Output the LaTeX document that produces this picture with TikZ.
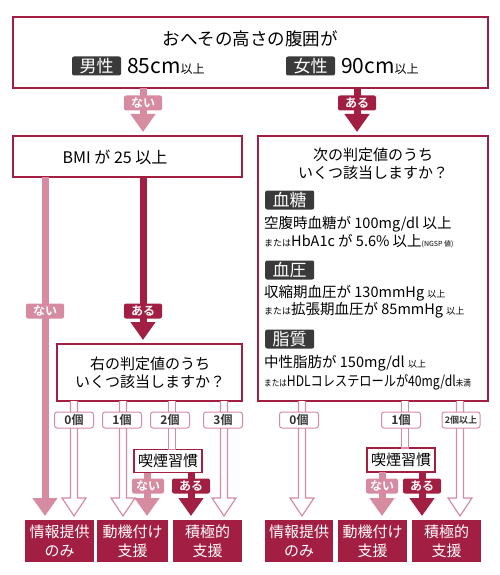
\documentclass[tikz,border=0pt]{standalone}
\usepackage{fontspec}
\usepackage{graphicx}
\setmainfont{Noto Sans CJK JP}[BoldFont={Noto Sans CJK JP Bold}]
\usetikzlibrary{arrows.meta, calc, positioning}
\definecolor{crimson}{HTML}{A31E43}
\definecolor{pale}{HTML}{D68BA0}
\definecolor{taggray}{HTML}{3A3A3A}
\definecolor{darktext}{HTML}{333333}
\newcommand{\fsz}[1]{\fontsize{#1}{#1}\selectfont}
\newcommand{\fszl}[2]{\fontsize{#1}{#2}\selectfont}
\tikzset{
	crbox/.style={draw=crimson, line width=1.2pt, fill=white, inner sep=0pt, outer sep=0pt}
}
\tikzset{
	outbox/.style={fill=crimson, text=white, inner sep=0pt, outer sep=0pt, minimum height=42pt,
		align=center, font=\fszl{15}{19}}
}
\tikzset{
	graytag/.style={fill=taggray, text=white, rounded corners=2pt, inner sep=0pt,
		minimum width=49pt, minimum height=19pt, font=\fsz{17}}
}
\tikzset{
	yesbadge/.style={fill=crimson, text=white, rounded corners=2pt, inner sep=0pt,
		minimum width=38pt, minimum height=15pt, font=\bfseries\fsz{12}},
	nobadge/.style={yesbadge, fill=pale},
	countbadge/.style={draw=pale, line width=1pt, fill=white, text=darktext, rounded corners=2.5pt,
		inner sep=0pt, minimum width=39pt, minimum height=16pt, font=\bfseries\fsz{12}},
	yesarrow/.style={crimson, line width=7pt, shorten >=4pt, -{Triangle[width=24pt,length=18pt]}},
	noarrow/.style={yesarrow, pale},
	hollowline/.style={draw=pale, line width=1.2pt, fill=white, line join=miter},
	plaintext/.style={inner sep=0pt, text=black}
}
% outlined arrow from #1 down to #2
\newcommand{\hollowarrow}[2]{%
	\draw[hollowline] let \p1=(#1), \p2=(#2) in
		(\x1-3.5pt,\y1) -- (\x1-3.5pt,\y2+22pt) -- (\x1-12pt,\y2+22pt) -- (\x1,\y2+4pt)
		-- (\x1+12pt,\y2+22pt) -- (\x1+3.5pt,\y2+22pt) -- (\x1+3.5pt,\y1);
}
% outlined stem only
\newcommand{\hollowstem}[2]{%
	\draw[hollowline] let \p1=(#1), \p2=(#2) in
		(\x1-3.5pt,\y1) -- (\x1-3.5pt,\y2) -- (\x1+3.5pt,\y2) -- (\x1+3.5pt,\y1);
}
\begin{document}
\begin{tikzpicture}[x=1pt, y=-1pt]
	\useasboundingbox (0,0) rectangle (500,575);

	% boxes
	\node[crbox, minimum width=475pt, minimum height=71pt] (waist) at (250.5,52.5) {};
	\node[crbox, minimum width=229pt, minimum height=41pt] (bmi) at (127.5,156.5) {};
	\node[crbox, minimum width=230pt, minimum height=265pt] (crit) at (373,268.5) {};
	\node[crbox, minimum width=185pt, minimum height=57pt] (count) at (149.5,372.5) {};

	\node[outbox, minimum width=69pt] (outL1) at (59.5,541) {情報提供\\のみ};
	\node[outbox, minimum width=71pt] (outL2) at (132.5,541) {動機付け\\支援};
	\node[outbox, minimum width=69pt] (outL3) at (207.5,541) {積極的\\支援};
	\node[outbox, minimum width=68pt] (outR1) at (299,541) {情報提供\\のみ};
	\node[outbox, minimum width=69pt] (outR2) at (372.5,541) {動機付け\\支援};
	\node[outbox, minimum width=69pt] (outR3) at (446.5,541) {積極的\\支援};

	% columns
	\coordinate (colNoTop) at (143,0);
	\coordinate (colYesTop) at (357,0);
	\coordinate (colNoBmi) at (45,0);
	\coordinate (colYesBmi) at (143,0);
	\coordinate (colL0) at (74,0);
	\coordinate (colL1) at (123,0);
	\coordinate (colL2) at (172,0);
	\coordinate (colL3) at (224,0);
	\coordinate (colLno) at (147,0);
	\coordinate (colLyes) at (191,0);
	\coordinate (colR0) at (302,0);
	\coordinate (colR1) at (405,0);
	\coordinate (colR2) at (460,0);
	\coordinate (colRno) at (382,0);
	\coordinate (colRyes) at (422,0);

	% smoking boxes
	\node[crbox, minimum width=68pt, minimum height=23pt, font=\fsz{15}] (smokeL) at (168,461) {喫煙習慣};
	\node[crbox, minimum width=68pt, minimum height=24pt, font=\fsz{15}] (smokeR) at (401,460) {喫煙習慣};

	% arrows
	\draw[noarrow] (waist.south -| colNoTop) -- (bmi.north -| colNoTop);
	\draw[yesarrow] (waist.south -| colYesTop) -- (crit.north -| colYesTop);
	\draw[noarrow] (bmi.south -| colNoBmi) -- (outL1.north -| colNoBmi);
	\draw[yesarrow] (bmi.south -| colYesBmi) -- (count.north -| colYesBmi);
	\hollowarrow{count.south -| colL0}{outL1.north -| colL0}
	\hollowarrow{count.south -| colL1}{outL2.north -| colL1}
	\hollowstem{count.south -| colL2}{smokeL.north -| colL2}
	\hollowarrow{count.south -| colL3}{outL3.north -| colL3}
	\draw[noarrow] (smokeL.south -| colLno) -- (outL2.north -| colLno);
	\draw[yesarrow] (smokeL.south -| colLyes) -- (outL3.north -| colLyes);
	\hollowarrow{crit.south -| colR0}{outR1.north -| colR0}
	\hollowstem{crit.south -| colR1}{smokeR.north -| colR1}
	\hollowarrow{crit.south -| colR2}{outR3.north -| colR2}
	\draw[noarrow] (smokeR.south -| colRno) -- (outR2.north -| colRno);
	\draw[yesarrow] (smokeR.south -| colRyes) -- (outR3.north -| colRyes);

	% badges
	\node[nobadge] (noTop) at (143,103) {ない};
	\node[yesbadge] (yesTop) at (357,103) {ある};
	\node[nobadge] (noBmi) at (45,311) {ない};
	\node[yesbadge] (yesBmi) at (143,311) {ある};
	\node[countbadge] (cntL0) at (74,420) {0個};
	\node[countbadge] (cntL1) at (122,420) {1個};
	\node[countbadge] (cntL2) at (170,420) {2個};
	\node[countbadge] (cntL3) at (223,420) {3個};
	\node[nobadge, minimum width=32pt] (noSmokeL) at (148,486) {ない};
	\node[yesbadge] (yesSmokeL) at (191,486) {ある};
	\node[countbadge] (cntR0) at (299,420) {0個};
	\node[countbadge] (cntR1) at (401,420) {1個};
	\node[countbadge, font=\bfseries\fsz{9}, minimum width=38pt] (cntR2) at (461,420) {2個以上};
	\node[nobadge, minimum width=32pt] (noSmokeR) at (382,486) {ない};
	\node[yesbadge] (yesSmokeR) at (422,486) {ある};

	% waist text
	\node[plaintext, font=\fsz{17.5}] (waistTitle) at (250,39) {おへその高さの腹囲が};
	\node[graytag] (male) at (96.5,66) {男性};
	\node[plaintext, anchor=west] (maleVal) at (127,66) {\fsz{21}85cm\fsz{12}以上};
	\node[graytag] (female) at (310.5,66) {女性};
	\node[plaintext, anchor=west] (femaleVal) at (341,66) {\fsz{21}90cm\fsz{12}以上};

	% bmi text
	\node[plaintext, font=\fsz{16}] (bmiText) at (115,157) {BMI が 25 以上};

	% count text
	\node[plaintext, font=\fsz{15}, align=center] (countText) at (150,373)
		{右の判定値のうち\\[3pt]いくつ該当しますか？};

	% criteria text
	\node[plaintext, font=\fsz{15}, align=center] (critText) at (373,164)
		{次の判定値のうち\\[3pt]いくつ該当しますか？};
	\node[graytag, anchor=west] (sugar) at (265,200) {血糖};
	\node[plaintext, anchor=west, font=\fsz{14.5}] (sugar1) at (264,224) {空腹時血糖が 100mg/dl 以上};
	\node[plaintext, anchor=west, font=\fsz{14.5}] (sugar2) at (264,241)
		{{\fsz{9}または}HbA1c が 5.6\% 以上{\fsz{7}(NGSP 値)}};
	\node[graytag, anchor=west] (pressure) at (265,270) {血圧};
	\node[plaintext, anchor=west, font=\fsz{14.5}] (pressure1) at (264,293) {収縮期血圧が 130mmHg {\fsz{9}以上}};
	\node[plaintext, anchor=west, font=\fsz{14.5}] (pressure2) at (264,310)
		{{\fsz{9}または}拡張期血圧が 85mmHg {\fsz{9}以上}};
	\node[graytag, anchor=west] (lipid) at (265,339) {脂質};
	\node[plaintext, anchor=west, font=\fsz{14.5}] (lipid1) at (264,363) {中性脂肪が 150mg/dl {\fsz{9}以上}};
	\node[plaintext, anchor=west, font=\fsz{14.5}] (lipid2) at (264,382)
		{\scalebox{0.84}[1]{{\fsz{9}または}HDLコレステロールが40mg/dl{\fsz{9}未満}}};
\end{tikzpicture}
\end{document}
